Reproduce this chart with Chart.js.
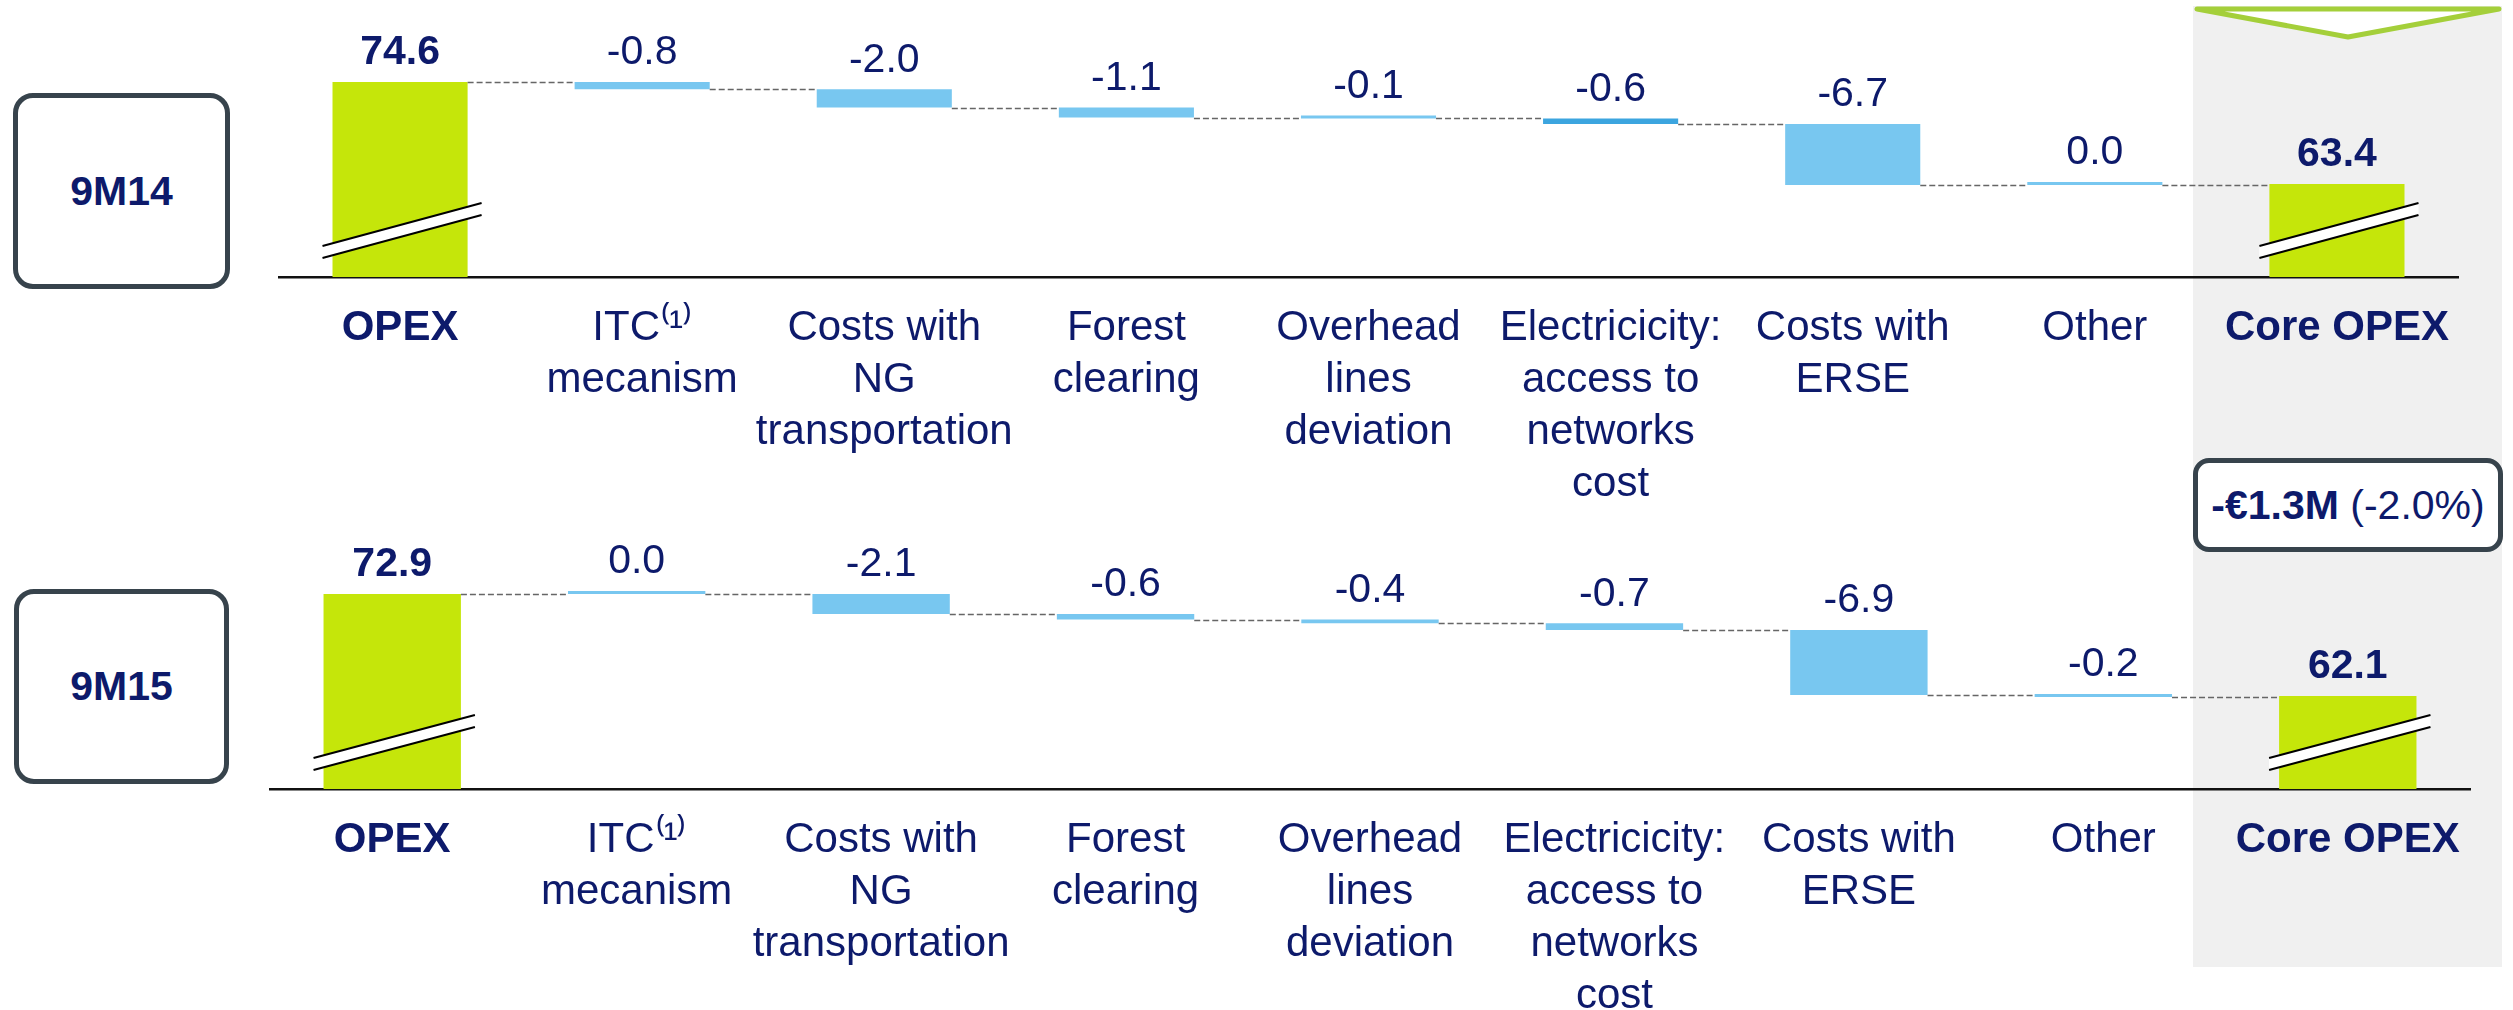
<!DOCTYPE html>
<html>
<head>
<meta charset="utf-8">
<script src="https://cdn.jsdelivr.net/npm/chart.js@4.4.1/dist/chart.umd.min.js"></script>
<style>
  html, body { margin: 0; padding: 0; background: #fff; }
  body { width: 2513px; height: 1010px; position: relative; overflow: hidden;
         font-family: 'Liberation Sans', Arial, sans-serif; color: #0d1a6b; }
  .panel { position: absolute; left: 2193px; top: 6px; width: 309px; height: 961px; background: #f0f0f0; }
  canvas { position: absolute; left: 0; }
  #chartTop { top: 0; }
  #chartBottom { top: 520px; }
  .period { position: absolute; box-sizing: border-box; border: 5px solid #37434c; border-radius: 20px;
            background: #fff; display: flex; align-items: center; justify-content: center;
            font-weight: bold; font-size: 41px; }
  #change { position: absolute; left: 2193px; top: 458px; width: 310px; height: 94px; box-sizing: border-box;
            border: 5px solid #37434c; border-radius: 16px; background: #fff; display: flex;
            align-items: center; justify-content: center; font-size: 41px; white-space: pre; }
  #arrow { position: absolute; left: 0; top: 0; }
</style>
</head>
<body>
<div class="panel"></div>
<svg id="arrow" width="2513" height="50">
  <polygon points="2197,9 2499,9 2348,37" fill="#fff" stroke="#a4cf3a" stroke-width="5" stroke-linejoin="round"/>
</svg>
<canvas id="chartTop" width="2513" height="510"></canvas>
<canvas id="chartBottom" width="2513" height="490"></canvas>
<div class="period" id="p1" style="left:13px;top:93px;width:217px;height:196px;"></div>
<div class="period" id="p2" style="left:14px;top:589px;width:215px;height:195px;"></div>
<div id="change"><b id="changeAbs"></b><span id="changePct"></span></div>
<script>
// categories (multi-line labels)
const categories = [
  'OPEX',
  ['ITC⁽¹⁾', 'mecanism'],
  ['Costs with', 'NG', 'transportation'],
  ['Forest', 'clearing'],
  ['Overhead', 'lines', 'deviation'],
  ['Electricicity:', 'access to', 'networks', 'cost'],
  ['Costs with', 'ERSE'],
  'Other',
  'Core OPEX'
];

// 9M14 (€M)
const opex9M14 = 74.6;
const deltas9M14 = [-0.8, -2.0, -1.1, -0.1, -0.6, -6.7, 0.0];
const core9M14 = 63.4;

// 9M15 (€M)
const opex9M15 = 72.9;
const deltas9M15 = [0.0, -2.1, -0.6, -0.4, -0.7, -6.9, -0.2];
const core9M15 = 62.1;

const periodLabels = ['9M14', '9M15'];
const changeAbs = '-€1.3M';
const changePct = ' (-2.0%)';

const NAVY = '#0d1a6b';
const GREEN = '#c5e60a';
const LIGHT_BLUE = '#78c7f0';
const DARK_BLUE = '#3ca5df';
const FONT = "'Liberation Sans', Arial, sans-serif";

document.getElementById('p1').textContent = periodLabels[0];
document.getElementById('p2').textContent = periodLabels[1];
document.getElementById('changeAbs').textContent = changeAbs;
document.getElementById('changePct').textContent = changePct;

// floating ranges for a waterfall, totals start at the (broken) axis floor
function buildWaterfall(start, deltas, end, floor) {
  const ranges = [[floor, start]];
  const levels = [start];
  let run = start;
  deltas.forEach(d => {
    ranges.push([run, run + d]);
    run += d;
    levels.push(run);
  });
  ranges.push([floor, end]);
  return { ranges, levels, values: [start, ...deltas, end] };
}

const decorPlugin = {
  id: 'decor',
  afterDatasetsDraw(chart, args, opts) {
    const ctx = chart.ctx;
    const bars = chart.getDatasetMeta(0).data;
    const ys = chart.scales.y;
    const bottom = chart.chartArea.bottom;
    ctx.save();

    // dashed connectors
    ctx.strokeStyle = '#666';
    ctx.lineWidth = 1.5;
    ctx.setLineDash([6, 3]);
    for (let i = 0; i < bars.length - 1; i++) {
      const a = bars[i], b = bars[i + 1];
      const py = Math.round(ys.getPixelForValue(opts.levels[i])) + 0.5;
      ctx.beginPath();
      ctx.moveTo(a.x + a.width / 2, py);
      ctx.lineTo(b.x - b.width / 2, py);
      ctx.stroke();
    }
    ctx.setLineDash([]);

    // axis break marks on the total bars
    [0, bars.length - 1].forEach(i => {
      const el = bars[i];
      const l = el.x - el.width / 2 - 10, r = el.x + el.width / 2 + 14;
      ctx.beginPath();
      ctx.moveTo(l, bottom - 31); ctx.lineTo(r, bottom - 74);
      ctx.lineTo(r, bottom - 62); ctx.lineTo(l, bottom - 19);
      ctx.closePath();
      ctx.fillStyle = '#fff';
      ctx.fill();
      ctx.strokeStyle = '#000';
      ctx.lineWidth = 2;
      ctx.beginPath();
      ctx.moveTo(l, bottom - 31); ctx.lineTo(r, bottom - 74);
      ctx.moveTo(l, bottom - 19); ctx.lineTo(r, bottom - 62);
      ctx.stroke();
    });

    // value labels
    ctx.fillStyle = NAVY;
    ctx.textAlign = 'center';
    ctx.textBaseline = 'middle';
    bars.forEach((el, i) => {
      const top = Math.min(el.y, el.base);
      const total = i === 0 || i === bars.length - 1;
      ctx.font = (total ? 'bold ' : '') + '41px ' + FONT;
      ctx.fillText(opts.values[i].toFixed(1), el.x, top - 29);
    });
    ctx.restore();
  }
};

function renderWaterfall(canvasId, { wf, colors, yMin, yMax, left, right, axisHeight, barPct }) {
  return new Chart(document.getElementById(canvasId), {
    type: 'bar',
    data: {
      labels: categories,
      datasets: [{
        data: wf.ranges,
        backgroundColor: colors,
        borderWidth: 0,
        barPercentage: barPct,
        categoryPercentage: 1,
        minBarLength: 3
      }]
    },
    options: {
      responsive: false,
      animation: false,
      devicePixelRatio: 1,
      layout: { padding: { left, right, top: 0, bottom: 0 } },
      plugins: {
        legend: { display: false },
        tooltip: { enabled: false },
        decor: { levels: wf.levels, values: wf.values }
      },
      scales: {
        x: {
          grid: { display: false, drawTicks: false },
          border: { display: true, color: '#111', width: 2.5 },
          ticks: {
            color: NAVY,
            padding: 25,
            autoSkip: false,
            maxRotation: 0,
            font: c => ({
              family: FONT,
              size: 42,
              lineHeight: '52px',
              weight: (c.index === 0 || c.index === categories.length - 1) ? 'bold' : 'normal'
            })
          },
          afterFit: s => { s.height = axisHeight; }
        },
        y: { display: false, min: yMin, max: yMax }
      }
    },
    plugins: [decorPlugin]
  });
}

const floorTop = 53.2, floorBottom = 52.25;
const wfTop = buildWaterfall(opex9M14, deltas9M14, core9M14, floorTop);
const wfBottom = buildWaterfall(opex9M15, deltas9M15, core9M15, floorBottom);

const colorsTop = categories.map((_, i) =>
  (i === 0 || i === categories.length - 1) ? GREEN : (i === 5 ? DARK_BLUE : LIGHT_BLUE));
const colorsBottom = categories.map((_, i) =>
  (i === 0 || i === categories.length - 1) ? GREEN : LIGHT_BLUE);

renderWaterfall('chartTop', {
  wf: wfTop, colors: colorsTop, yMin: floorTop, yMax: 83.6,
  left: 279, right: 55, axisHeight: 233, barPct: 0.558
});
renderWaterfall('chartBottom', {
  wf: wfBottom, colors: colorsBottom, yMin: floorBottom, yMax: 80.75,
  left: 270, right: 43, axisHeight: 221, barPct: 0.562
});
</script>
</body>
</html>
